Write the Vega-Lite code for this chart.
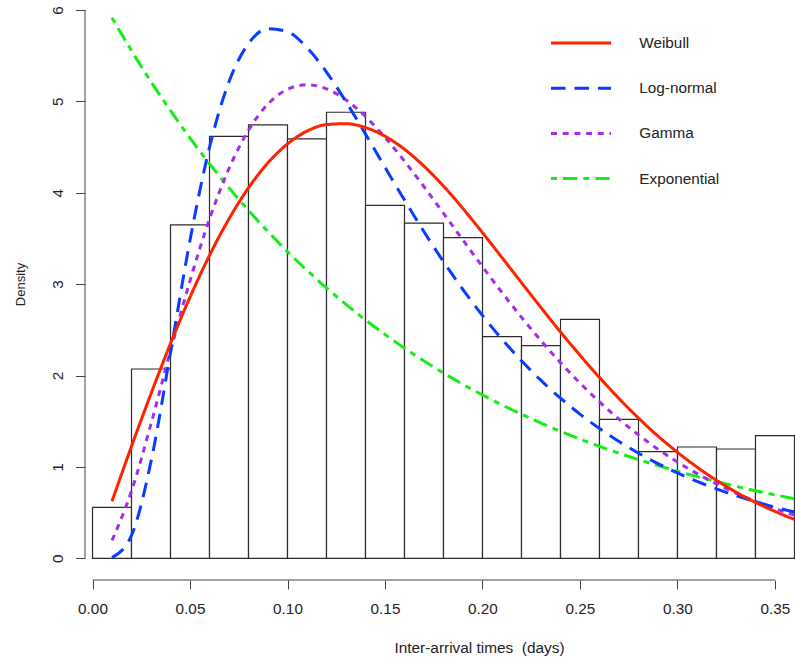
{
  "$schema": "https://vega.github.io/schema/vega-lite/v6.json",
  "width": 710,
  "height": 580,
  "autosize": {"type": "none"},
  "padding": {"left": 85, "top": 0, "right": 0, "bottom": 80},
  "background": "white",
  "config": {
    "view": {"stroke": null},
    "font": "Liberation Sans",
    "axisX": {
      "domain": false, "grid": false,
      "tickSize": 9, "tickColor": "#444", "tickWidth": 1,
      "labelFontSize": 15.3, "labelColor": "#222", "labelPadding": 12.8,
      "labelFlush": false, "labelOverlap": false,
      "titleFontSize": 15.4, "titleFontWeight": "normal", "titleColor": "#222",
      "titleX": 394, "titleY": 72.5, "titleAlign": "center", "titleBaseline": "alphabetic"
    },
    "axisY": {
      "domain": false, "grid": false,
      "tickSize": 9.5, "tickColor": "#444", "tickWidth": 1,
      "labelAngle": 270, "labelAlign": "center", "labelBaseline": "alphabetic",
      "labelFontSize": 15.3, "labelColor": "#222", "labelPadding": 12.8,
      "labelFlush": false, "labelOverlap": false,
      "titleFontSize": 13, "titleFontWeight": "normal", "titleColor": "#222",
      "titleAngle": 270, "titleX": -61, "titleY": 284,
      "titleAlign": "center", "titleBaseline": "alphabetic"
    }
  },
  "datasets": {
    "hist": [
      {"start": 0.00, "end": 0.02, "density": 0.558},
      {"start": 0.02, "end": 0.04, "density": 2.071},
      {"start": 0.04, "end": 0.06, "density": 3.647},
      {"start": 0.06, "end": 0.08, "density": 4.617},
      {"start": 0.08, "end": 0.10, "density": 4.741},
      {"start": 0.10, "end": 0.12, "density": 4.588},
      {"start": 0.12, "end": 0.14, "density": 4.880},
      {"start": 0.14, "end": 0.16, "density": 3.862},
      {"start": 0.16, "end": 0.18, "density": 3.668},
      {"start": 0.18, "end": 0.20, "density": 3.508},
      {"start": 0.20, "end": 0.22, "density": 2.425},
      {"start": 0.22, "end": 0.24, "density": 2.326},
      {"start": 0.24, "end": 0.26, "density": 2.615},
      {"start": 0.26, "end": 0.28, "density": 1.521},
      {"start": 0.28, "end": 0.30, "density": 1.167},
      {"start": 0.30, "end": 0.32, "density": 1.218},
      {"start": 0.32, "end": 0.34, "density": 1.196},
      {"start": 0.34, "end": 0.36, "density": 1.342}
    ],
    "fits": [
      {"dist": "Exponential", "x": 0.01, "density": 5.915},
      {"dist": "Exponential", "x": 0.02, "density": 5.554},
      {"dist": "Exponential", "x": 0.03, "density": 5.215},
      {"dist": "Exponential", "x": 0.04, "density": 4.897},
      {"dist": "Exponential", "x": 0.05, "density": 4.598},
      {"dist": "Exponential", "x": 0.06, "density": 4.317},
      {"dist": "Exponential", "x": 0.07, "density": 4.053},
      {"dist": "Exponential", "x": 0.08, "density": 3.806},
      {"dist": "Exponential", "x": 0.09, "density": 3.574},
      {"dist": "Exponential", "x": 0.10, "density": 3.355},
      {"dist": "Exponential", "x": 0.11, "density": 3.151},
      {"dist": "Exponential", "x": 0.12, "density": 2.958},
      {"dist": "Exponential", "x": 0.13, "density": 2.778},
      {"dist": "Exponential", "x": 0.14, "density": 2.608},
      {"dist": "Exponential", "x": 0.15, "density": 2.449},
      {"dist": "Exponential", "x": 0.16, "density": 2.299},
      {"dist": "Exponential", "x": 0.17, "density": 2.159},
      {"dist": "Exponential", "x": 0.18, "density": 2.027},
      {"dist": "Exponential", "x": 0.19, "density": 1.903},
      {"dist": "Exponential", "x": 0.20, "density": 1.787},
      {"dist": "Exponential", "x": 0.21, "density": 1.678},
      {"dist": "Exponential", "x": 0.22, "density": 1.576},
      {"dist": "Exponential", "x": 0.23, "density": 1.479},
      {"dist": "Exponential", "x": 0.24, "density": 1.389},
      {"dist": "Exponential", "x": 0.25, "density": 1.304},
      {"dist": "Exponential", "x": 0.26, "density": 1.225},
      {"dist": "Exponential", "x": 0.27, "density": 1.150},
      {"dist": "Exponential", "x": 0.28, "density": 1.080},
      {"dist": "Exponential", "x": 0.29, "density": 1.014},
      {"dist": "Exponential", "x": 0.30, "density": 0.952},
      {"dist": "Exponential", "x": 0.31, "density": 0.894},
      {"dist": "Exponential", "x": 0.32, "density": 0.839},
      {"dist": "Exponential", "x": 0.33, "density": 0.788},
      {"dist": "Exponential", "x": 0.34, "density": 0.740},
      {"dist": "Exponential", "x": 0.35, "density": 0.695},
      {"dist": "Exponential", "x": 0.36, "density": 0.652},
      {"dist": "Gamma", "x": 0.01, "density": 0.196},
      {"dist": "Gamma", "x": 0.02, "density": 0.736},
      {"dist": "Gamma", "x": 0.03, "density": 1.472},
      {"dist": "Gamma", "x": 0.04, "density": 2.270},
      {"dist": "Gamma", "x": 0.05, "density": 3.036},
      {"dist": "Gamma", "x": 0.06, "density": 3.712},
      {"dist": "Gamma", "x": 0.07, "density": 4.265},
      {"dist": "Gamma", "x": 0.08, "density": 4.684},
      {"dist": "Gamma", "x": 0.09, "density": 4.971},
      {"dist": "Gamma", "x": 0.10, "density": 5.131},
      {"dist": "Gamma", "x": 0.11, "density": 5.181},
      {"dist": "Gamma", "x": 0.12, "density": 5.137},
      {"dist": "Gamma", "x": 0.13, "density": 5.015},
      {"dist": "Gamma", "x": 0.14, "density": 4.833},
      {"dist": "Gamma", "x": 0.15, "density": 4.605},
      {"dist": "Gamma", "x": 0.16, "density": 4.345},
      {"dist": "Gamma", "x": 0.17, "density": 4.065},
      {"dist": "Gamma", "x": 0.18, "density": 3.774},
      {"dist": "Gamma", "x": 0.19, "density": 3.481},
      {"dist": "Gamma", "x": 0.20, "density": 3.190},
      {"dist": "Gamma", "x": 0.21, "density": 2.908},
      {"dist": "Gamma", "x": 0.22, "density": 2.637},
      {"dist": "Gamma", "x": 0.23, "density": 2.381},
      {"dist": "Gamma", "x": 0.24, "density": 2.141},
      {"dist": "Gamma", "x": 0.25, "density": 1.917},
      {"dist": "Gamma", "x": 0.26, "density": 1.711},
      {"dist": "Gamma", "x": 0.27, "density": 1.522},
      {"dist": "Gamma", "x": 0.28, "density": 1.350},
      {"dist": "Gamma", "x": 0.29, "density": 1.194},
      {"dist": "Gamma", "x": 0.30, "density": 1.053},
      {"dist": "Gamma", "x": 0.31, "density": 0.927},
      {"dist": "Gamma", "x": 0.32, "density": 0.814},
      {"dist": "Gamma", "x": 0.33, "density": 0.713},
      {"dist": "Gamma", "x": 0.34, "density": 0.623},
      {"dist": "Gamma", "x": 0.35, "density": 0.544},
      {"dist": "Gamma", "x": 0.36, "density": 0.474},
      {"dist": "Log-normal", "x": 0.01, "density": 0.008},
      {"dist": "Log-normal", "x": 0.02, "density": 0.251},
      {"dist": "Log-normal", "x": 0.03, "density": 1.059},
      {"dist": "Log-normal", "x": 0.04, "density": 2.253},
      {"dist": "Log-normal", "x": 0.05, "density": 3.480},
      {"dist": "Log-normal", "x": 0.06, "density": 4.497},
      {"dist": "Log-normal", "x": 0.07, "density": 5.214},
      {"dist": "Log-normal", "x": 0.08, "density": 5.632},
      {"dist": "Log-normal", "x": 0.09, "density": 5.795},
      {"dist": "Log-normal", "x": 0.10, "density": 5.761},
      {"dist": "Log-normal", "x": 0.11, "density": 5.587},
      {"dist": "Log-normal", "x": 0.12, "density": 5.320},
      {"dist": "Log-normal", "x": 0.13, "density": 4.995},
      {"dist": "Log-normal", "x": 0.14, "density": 4.641},
      {"dist": "Log-normal", "x": 0.15, "density": 4.278},
      {"dist": "Log-normal", "x": 0.16, "density": 3.919},
      {"dist": "Log-normal", "x": 0.17, "density": 3.572},
      {"dist": "Log-normal", "x": 0.18, "density": 3.245},
      {"dist": "Log-normal", "x": 0.19, "density": 2.939},
      {"dist": "Log-normal", "x": 0.20, "density": 2.656},
      {"dist": "Log-normal", "x": 0.21, "density": 2.397},
      {"dist": "Log-normal", "x": 0.22, "density": 2.161},
      {"dist": "Log-normal", "x": 0.23, "density": 1.946},
      {"dist": "Log-normal", "x": 0.24, "density": 1.752},
      {"dist": "Log-normal", "x": 0.25, "density": 1.577},
      {"dist": "Log-normal", "x": 0.26, "density": 1.420},
      {"dist": "Log-normal", "x": 0.27, "density": 1.278},
      {"dist": "Log-normal", "x": 0.28, "density": 1.150},
      {"dist": "Log-normal", "x": 0.29, "density": 1.036},
      {"dist": "Log-normal", "x": 0.30, "density": 0.934},
      {"dist": "Log-normal", "x": 0.31, "density": 0.842},
      {"dist": "Log-normal", "x": 0.32, "density": 0.759},
      {"dist": "Log-normal", "x": 0.33, "density": 0.685},
      {"dist": "Log-normal", "x": 0.34, "density": 0.619},
      {"dist": "Log-normal", "x": 0.35, "density": 0.559},
      {"dist": "Log-normal", "x": 0.36, "density": 0.506},
      {"dist": "Weibull", "x": 0.01, "density": 0.625},
      {"dist": "Weibull", "x": 0.02, "density": 1.225},
      {"dist": "Weibull", "x": 0.03, "density": 1.801},
      {"dist": "Weibull", "x": 0.04, "density": 2.350},
      {"dist": "Weibull", "x": 0.05, "density": 2.857},
      {"dist": "Weibull", "x": 0.06, "density": 3.314},
      {"dist": "Weibull", "x": 0.07, "density": 3.714},
      {"dist": "Weibull", "x": 0.08, "density": 4.053},
      {"dist": "Weibull", "x": 0.09, "density": 4.327},
      {"dist": "Weibull", "x": 0.10, "density": 4.534},
      {"dist": "Weibull", "x": 0.11, "density": 4.674},
      {"dist": "Weibull", "x": 0.12, "density": 4.745},
      {"dist": "Weibull", "x": 0.13, "density": 4.755},
      {"dist": "Weibull", "x": 0.14, "density": 4.712},
      {"dist": "Weibull", "x": 0.15, "density": 4.618},
      {"dist": "Weibull", "x": 0.16, "density": 4.475},
      {"dist": "Weibull", "x": 0.17, "density": 4.290},
      {"dist": "Weibull", "x": 0.18, "density": 4.072},
      {"dist": "Weibull", "x": 0.19, "density": 3.826},
      {"dist": "Weibull", "x": 0.20, "density": 3.562},
      {"dist": "Weibull", "x": 0.21, "density": 3.290},
      {"dist": "Weibull", "x": 0.22, "density": 3.015},
      {"dist": "Weibull", "x": 0.23, "density": 2.743},
      {"dist": "Weibull", "x": 0.24, "density": 2.476},
      {"dist": "Weibull", "x": 0.25, "density": 2.222},
      {"dist": "Weibull", "x": 0.26, "density": 1.978},
      {"dist": "Weibull", "x": 0.27, "density": 1.748},
      {"dist": "Weibull", "x": 0.28, "density": 1.534},
      {"dist": "Weibull", "x": 0.29, "density": 1.337},
      {"dist": "Weibull", "x": 0.30, "density": 1.160},
      {"dist": "Weibull", "x": 0.31, "density": 0.998},
      {"dist": "Weibull", "x": 0.32, "density": 0.853},
      {"dist": "Weibull", "x": 0.33, "density": 0.725},
      {"dist": "Weibull", "x": 0.34, "density": 0.612},
      {"dist": "Weibull", "x": 0.35, "density": 0.513},
      {"dist": "Weibull", "x": 0.36, "density": 0.425}
    ]
  },
  "layer": [
    {
      "data": {"name": "hist"},
      "mark": {"type": "bar", "fill": "white", "stroke": "#2b2b2b", "strokeWidth": 1.2},
      "encoding": {
        "x": {
          "field": "start", "type": "quantitative",
          "scale": {"domain": [-0.00385, 0.36026], "nice": false, "zero": false},
          "axis": {"values": [0, 0.05, 0.1, 0.15, 0.2, 0.25, 0.3, 0.35], "format": ".2f", "title": "Inter-arrival times\u00a0 (days)"}
        },
        "x2": {"field": "end"},
        "y": {
          "field": "density", "type": "quantitative",
          "scale": {"domain": [-0.2374, 6.1083], "nice": false, "zero": false},
          "axis": {"values": [0, 1, 2, 3, 4, 5, 6], "format": "d", "title": "Density"}
        },
        "y2": {"datum": 0}
      }
    },
    {
      "data": {"values": [{}]},
      "mark": {"type": "rule", "stroke": "#444", "strokeWidth": 1},
      "encoding": {
        "x": {"datum": 0, "type": "quantitative", "scale": {"domain": [-0.00385, 0.36026], "nice": false, "zero": false},
              "axis": {"values": [0, 0.05, 0.1, 0.15, 0.2, 0.25, 0.3, 0.35], "format": ".2f", "title": "Inter-arrival times\u00a0 (days)"}},
        "x2": {"datum": 0.35},
        "y": {"datum": -0.2374, "type": "quantitative", "scale": {"domain": [-0.2374, 6.1083], "nice": false, "zero": false},
              "axis": {"values": [0, 1, 2, 3, 4, 5, 6], "format": "d", "title": "Density"}}
      }
    },
    {
      "data": {"values": [{}]},
      "mark": {"type": "rule", "stroke": "#444", "strokeWidth": 1},
      "encoding": {
        "x": {"datum": -0.00385, "type": "quantitative", "scale": {"domain": [-0.00385, 0.36026], "nice": false, "zero": false},
              "axis": {"values": [0, 0.05, 0.1, 0.15, 0.2, 0.25, 0.3, 0.35], "format": ".2f", "title": "Inter-arrival times\u00a0 (days)"}},
        "y": {"datum": 0, "type": "quantitative", "scale": {"domain": [-0.2374, 6.1083], "nice": false, "zero": false},
              "axis": {"values": [0, 1, 2, 3, 4, 5, 6], "format": "d", "title": "Density"}},
        "y2": {"datum": 6}
      }
    },
    {
      "data": {"name": "fits"},
      "mark": {"type": "line", "strokeWidth": 3, "strokeCap": "butt", "interpolate": "monotone"},
      "encoding": {
        "x": {"field": "x", "type": "quantitative", "scale": {"domain": [-0.00385, 0.36026], "nice": false, "zero": false},
              "axis": {"values": [0, 0.05, 0.1, 0.15, 0.2, 0.25, 0.3, 0.35], "format": ".2f", "title": "Inter-arrival times\u00a0 (days)"}},
        "y": {"field": "density", "type": "quantitative", "scale": {"domain": [-0.2374, 6.1083], "nice": false, "zero": false},
              "axis": {"values": [0, 1, 2, 3, 4, 5, 6], "format": "d", "title": "Density"}},
        "color": {
          "field": "dist", "type": "nominal",
          "scale": {"domain": ["Weibull", "Log-normal", "Gamma", "Exponential"], "range": ["#ff2200", "#0a3cff", "#a52cee", "#14ee14"]},
          "legend": {
            "title": null, "orient": "none", "legendX": 484.5, "legendY": 31.5, "padding": 0,
            "symbolType": "M-3,0H3", "symbolSize": 400, "symbolStrokeWidth": 3,
            "labelFontSize": 15.3, "labelColor": "#222", "labelOffset": 46.8, "rowPadding": 25.2
          }
        },
        "strokeDash": {
          "field": "dist", "type": "nominal",
          "scale": {"domain": ["Weibull", "Log-normal", "Gamma", "Exponential"], "range": [[1, 0], [14.5, 9], [6, 5.7], [6, 6, 14.3, 6]]},
          "legend": {
            "title": null, "orient": "none", "legendX": 484.5, "legendY": 31.5, "padding": 0,
            "symbolType": "M-3,0H3", "symbolSize": 400, "symbolStrokeWidth": 3,
            "labelFontSize": 15.3, "labelColor": "#222", "labelOffset": 46.8, "rowPadding": 25.2
          }
        }
      }
    }
  ]
}
